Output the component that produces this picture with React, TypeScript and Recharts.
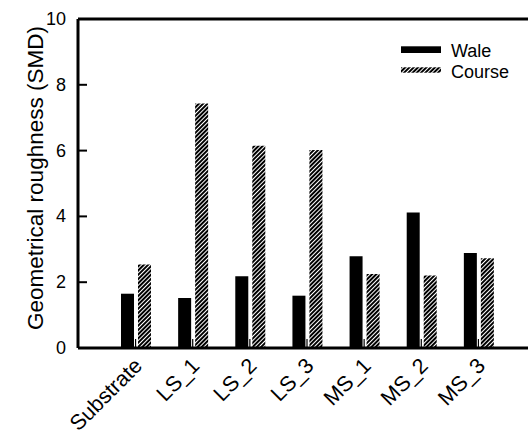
import React from 'react';
import { BarChart, Bar, XAxis, YAxis, ReferenceLine, Legend } from 'recharts';

// values
const categories = ['Substrate', 'LS_1', 'LS_2', 'LS_3', 'MS_1', 'MS_2', 'MS_3'];
const wale = [1.65, 1.52, 2.18, 1.59, 2.79, 4.12, 2.89];
const course = [2.54, 7.43, 6.15, 6.02, 2.25, 2.2, 2.73];
const yTicks = [0, 2, 4, 6, 8, 10];

const FONT = '"Liberation Sans", Arial, sans-serif';

const data = categories.map((name, i) => ({ name, wale: wale[i], course: course[i] }));

function XTick(props: any) {
    const { x, y, payload } = props;
    const tx = x + 8;
    const ty = y + 19;
    return (
        <g>
            <line x1={x} y1={y} x2={x} y2={y - 9} stroke="#000" strokeWidth={1.2} />
            <text
                x={tx}
                y={ty}
                transform={`rotate(-45 ${tx} ${ty})`}
                textAnchor="end"
                fontSize={21.5}
                fontFamily={FONT}
                fill="#000"
            >
                {payload.value}
            </text>
        </g>
    );
}

function YTick(props: any) {
    const { x, y, payload } = props;
    return (
        <g>
            <line x1={x} y1={y} x2={x + 9} y2={y} stroke="#000" strokeWidth={2} />
            <text
                x={x - 12}
                y={y}
                textAnchor="end"
                dominantBaseline="central"
                fontSize={18}
                fontFamily={FONT}
                fill="#000"
            >
                {payload.value}
            </text>
        </g>
    );
}

function HatchDef({ id }: { id: string }) {
    return (
        <pattern id={id} patternUnits="userSpaceOnUse" width={3} height={3} patternTransform="rotate(45)">
            <rect width={3} height={3} fill="#fff" />
            <line x1={1} y1={0} x2={1} y2={3} stroke="#000" strokeWidth={2} />
        </pattern>
    );
}

function LegendBox() {
    return (
        <svg width={130} height={45} style={{ display: 'block' }}>
            <defs>
                <HatchDef id="hatchLegend" />
            </defs>
            <rect x={6} y={8.3} width={40} height={6.7} fill="#000" />
            <text x={56} y={12.5} dominantBaseline="central" fontSize={18} fontFamily={FONT} fill="#000">
                Wale
            </text>
            <rect x={6} y={29.3} width={40} height={5.4} fill="url(#hatchLegend)" />
            <text x={56} y={34} dominantBaseline="central" fontSize={18} fontFamily={FONT} fill="#000">
                Course
            </text>
        </svg>
    );
}

export default function App() {
    return (
        <div style={{ position: 'absolute', left: 0, top: 0, width: 528, height: 438, overflow: 'hidden', background: '#fff' }}>
            <BarChart
                width={540}
                height={438}
                data={data}
                margin={{ top: 19, right: 4, left: 0, bottom: 30 }}
                barSize={13}
                barGap={4}
            >
                <defs>
                    <HatchDef id="hatch" />
                </defs>
                <XAxis
                    dataKey="name"
                    height={60}
                    padding={{ left: 29, right: 29 }}
                    axisLine={{ stroke: '#000', strokeWidth: 3 }}
                    tickLine={false}
                    tickSize={0}
                    tickMargin={0}
                    interval={0}
                    tick={<XTick />}
                />
                <YAxis
                    width={78}
                    domain={[0, 10]}
                    ticks={yTicks}
                    axisLine={{ stroke: '#000', strokeWidth: 3 }}
                    tickLine={false}
                    tickSize={0}
                    tickMargin={0}
                    tick={<YTick />}
                    label={{
                        content: () => (
                            <text
                                x={35}
                                y={178}
                                transform="rotate(-90 35 178)"
                                textAnchor="middle"
                                dominantBaseline="central"
                                fontSize={22.5}
                                fontFamily={FONT}
                                fill="#000"
                            >
                                Geometrical roughness (SMD)
                            </text>
                        ),
                    }}
                />
                <ReferenceLine y={10} stroke="#000" strokeWidth={3} />
                <Bar dataKey="wale" name="Wale" fill="#000" isAnimationActive={false} />
                <Bar dataKey="course" name="Course" fill="url(#hatch)" isAnimationActive={false} />
                <Legend
                    layout="vertical"
                    align="center"
                    verticalAlign="middle"
                    wrapperStyle={{ left: 395, top: 38, width: 130, height: 45 }}
                    content={() => <LegendBox />}
                />
            </BarChart>
        </div>
    );
}
